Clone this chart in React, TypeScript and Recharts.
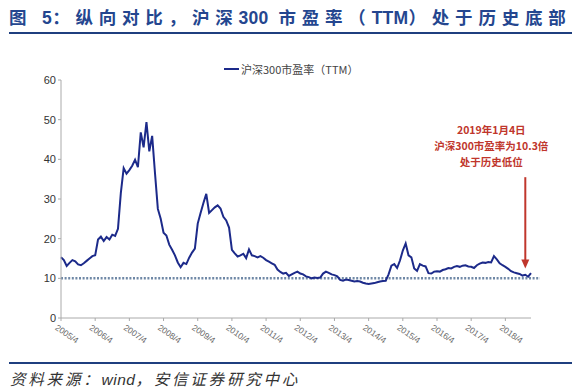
import { LineChart, Line, XAxis, YAxis, ReferenceLine, Legend } from 'recharts';

// 沪深300 PE (TTM), monthly readings
const pe2005 = [15.3, 14.6, 13.1, 13.9, 14.6, 14.3, 13.5, 13.3, 13.8]; // Apr-Dec
const pe2006 = [14.4, 15.0, 15.6, 15.8, 19.8, 20.5, 19.4, 20.4, 19.8, 21.0, 20.7, 22.5];
const pe2007 = [31.5, 37.8, 36.4, 37.3, 38.4, 39.9, 38.0, 46.8, 43.0, 49.4, 42.0, 45.9];
const pe2008 = [36.5, 27.5, 25.0, 21.5, 20.8, 18.5, 17.2, 15.8, 14.0, 12.8, 13.9, 13.6];
const pe2009 = [15.2, 16.5, 17.5, 23.8, 26.5, 29.0, 31.3, 26.5, 27.2, 27.9, 28.4, 27.6];
const pe2010 = [25.5, 24.6, 22.8, 17.2, 16.3, 15.5, 15.8, 16.2, 15.1, 17.3, 15.8, 15.6];
const pe2011 = [15.3, 15.6, 15.2, 14.6, 14.2, 13.8, 13.4, 12.2, 11.6, 11.2, 11.4, 10.6];
const pe2012 = [11.0, 11.4, 11.7, 11.2, 11.0, 10.5, 10.3, 10.0, 10.2, 10.1, 10.2, 11.2];
const pe2013 = [11.7, 11.4, 11.0, 10.8, 10.5, 9.6, 9.4, 9.7, 9.6, 9.4, 9.2, 9.3];
const pe2014 = [9.2, 8.9, 8.7, 8.6, 8.7, 8.8, 9.0, 9.2, 9.3, 9.4, 11.0, 13.2];
const pe2015 = [13.6, 12.6, 14.5, 17.0, 18.8, 15.8, 15.3, 12.5, 11.9, 13.6, 13.2, 13.0];
const pe2016 = [11.3, 11.2, 11.7, 11.8, 11.7, 12.1, 12.3, 12.6, 12.5, 12.9, 13.1, 12.9];
const pe2017 = [13.2, 13.3, 13.0, 12.9, 12.6, 13.3, 13.7, 14.0, 13.9, 14.1, 14.0, 15.6];
const pe2018 = [14.8, 13.8, 13.3, 12.9, 12.4, 11.8, 11.5, 11.3, 11.1, 10.7, 10.9, 10.4];
const pe2019 = [11.3]; // Jan

const peByYear: Array<[number, number, number[]]> = [
  [2005, 4, pe2005], [2006, 1, pe2006], [2007, 1, pe2007], [2008, 1, pe2008],
  [2009, 1, pe2009], [2010, 1, pe2010], [2011, 1, pe2011], [2012, 1, pe2012],
  [2013, 1, pe2013], [2014, 1, pe2014], [2015, 1, pe2015], [2016, 1, pe2016],
  [2017, 1, pe2017], [2018, 1, pe2018], [2019, 1, pe2019],
];

const xTicks = [
  '2005/4', '2006/4', '2007/4', '2008/4', '2009/4', '2010/4', '2011/4',
  '2012/4', '2013/4', '2014/4', '2015/4', '2016/4', '2017/4', '2018/4',
];
const yTicks = [0, 10, 20, 30, 40, 50, 60];

const seriesName = '沪深300市盈率（TTM）';
const floorLevel = 10;
const noteAt = '2018/11';
const noteRange = [35.5, 12.5];
const noteLines = ['2019年1月4日', '沪深300市盈率为10.3倍', '处于历史低位'];

const data = peByYear.flatMap(([year, first, values]) =>
  values.map((pe, k) => ({ date: `${year}/${first + k}`, pe }))
);

const NAVY = '#1c2a8a';
const RED = '#c0362c';

function DateTick({ x, y, payload }: any) {
  return (
    <g transform={`translate(${x - 3},${y + 1}) rotate(35)`}>
      <text x={0} y={0} dy="0.7em" textAnchor="start" fontSize={8.5} fill="#666" fontFamily="Liberation Sans, Arial">
        {payload.value}
      </text>
    </g>
  );
}

function FloorLine({ x1, y1, x2, y2 }: any) {
  return (
    <line x1={x1} y1={y1} x2={x2 + 9} y2={y2} stroke="#6f88a6" strokeWidth={2.5} strokeDasharray="2 1.6" />
  );
}

function NoteArrow({ x1, y1, x2, y2 }: any) {
  const top = Math.min(y1, y2);
  const tip = Math.max(y1, y2);
  return (
    <g>
      <line x1={x1} y1={top} x2={x2} y2={tip - 7} stroke={RED} strokeWidth={2} />
      <polygon points={`${x2 - 4},${tip - 9} ${x2 + 4},${tip - 9} ${x2},${tip}`} fill={RED} />
      {noteLines.map((t, i) => (
        <text key={t} x={x1 - 34} y={top - 48 + i * 16} textAnchor="middle" dominantBaseline="central"
          fontSize={10.5} fontWeight={700} fill={RED} fontFamily="Noto Sans CJK SC">
          {t}
        </text>
      ))}
    </g>
  );
}

function LegendBox() {
  return (
    <div style={{ display: 'flex', alignItems: 'center', fontFamily: 'Noto Sans CJK SC', fontSize: 11, color: '#444' }}>
      <span style={{ display: 'inline-block', width: 15, height: 2, background: NAVY, marginRight: 2 }} />
      {seriesName}
    </div>
  );
}

const latin = { fontFamily: 'Liberation Sans, Arial', letterSpacing: 0.3 };

export default function App() {
  return (
    <div style={{ position: 'absolute', left: 0, top: 0, width: 576, height: 391, background: '#fff', overflow: 'hidden' }}>
      <div style={{
        position: 'absolute', left: 9, top: 4, whiteSpace: 'nowrap', fontFamily: 'Noto Sans CJK SC',
        fontWeight: 700, fontSize: 17.5, letterSpacing: 5.8, color: '#24468f',
      }}>
        图 <span style={latin}>5</span>：纵向对比，沪深<span style={latin}>300</span> 市盈率（<span style={latin}>TTM</span>）处于历史底部
      </div>
      <div style={{ position: 'absolute', left: 9, top: 32, width: 563, height: 2, background: '#1f3f7f' }} />

      <LineChart width={576} height={391} data={data} margin={{ top: 64, right: 45, bottom: 43, left: 30 }}>
        <XAxis dataKey="date" ticks={xTicks} interval={0} tick={<DateTick />} tickSize={3}
          axisLine={{ stroke: '#aaa' }} tickLine={{ stroke: '#aaa' }} height={30} />
        <YAxis domain={[0, 60]} ticks={yTicks} width={31} tickSize={3} tick={{ fontSize: 11, fill: '#333', fontFamily: 'Liberation Sans, Arial' }}
          axisLine={{ stroke: '#aaa' }} tickLine={{ stroke: '#aaa' }} />
        <Legend verticalAlign="top" content={<LegendBox />}
          wrapperStyle={{ position: 'absolute', top: 61, left: 224, width: 160 }} />
        <ReferenceLine y={floorLevel} shape={<FloorLine />} ifOverflow="visible" />
        <Line type="linear" dataKey="pe" name={seriesName} stroke={NAVY} strokeWidth={2} dot={false} isAnimationActive={false} />
        <ReferenceLine segment={[{ x: noteAt, y: noteRange[0] }, { x: noteAt, y: noteRange[1] }]}
          shape={<NoteArrow />} ifOverflow="visible" />
      </LineChart>

      <div style={{ position: 'absolute', left: 9, top: 362, width: 563, height: 2, background: '#1f3f7f' }} />
      <div style={{
        position: 'absolute', left: 10, top: 367, whiteSpace: 'nowrap', fontFamily: 'Noto Sans CJK SC',
        fontStyle: 'italic', fontSize: 15.5, letterSpacing: 2.8, color: '#333',
      }}>
        资料来源：<span style={{ fontFamily: 'Liberation Sans, Arial', letterSpacing: 0.5 }}>wind</span>，安信证券研究中心
      </div>
    </div>
  );
}
